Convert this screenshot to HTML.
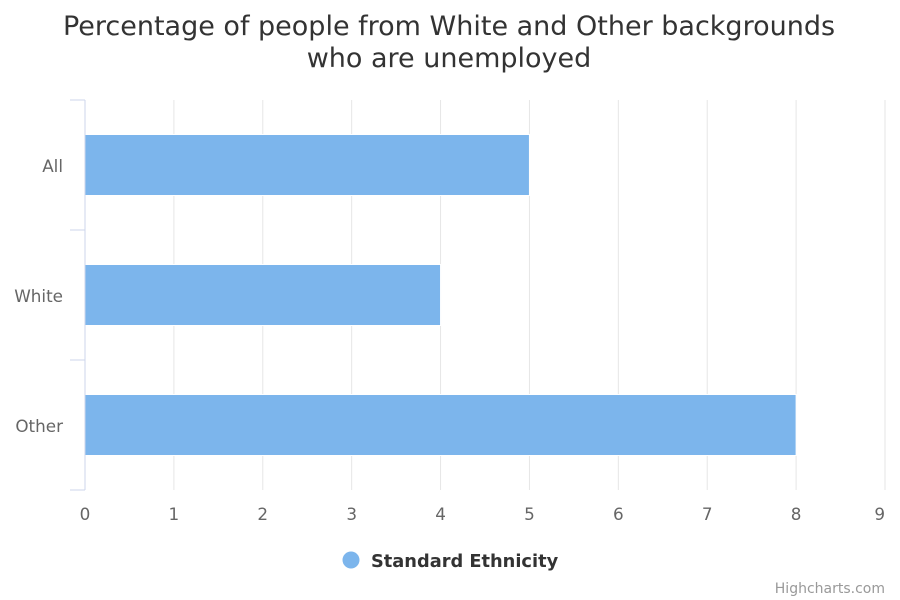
<!DOCTYPE html>
<html><head><meta charset="utf-8"><style>
body{margin:0;background:#fff;}
svg{display:block;font-family:"DejaVu Sans","Liberation Sans",sans-serif;}
</style></head><body>
<svg id="chart" width="900" height="600" viewBox="0 0 900 600">
<rect width="900" height="600" fill="#fff"/>
<text x="449" y="35" text-anchor="middle" font-size="27" fill="#333">Percentage of people from White and Other backgrounds</text>
<text x="449" y="67" text-anchor="middle" font-size="27" fill="#333">who are unemployed</text>
<g id="grid"></g>
<g id="bars"></g>
<g id="axes"></g>
<g>
<circle cx="351" cy="560" r="8.5" fill="#7cb5ec"/>
<text x="371" y="567" font-size="17.8" font-weight="bold" fill="#333">Standard Ethnicity</text>
</g>
<text x="885" y="593" text-anchor="end" font-size="14" fill="#999">Highcharts.com</text>
</svg>
<script>
const categories = ["All","White","Other"];
const values = [5,4,8];
const xTicks = [0,1,2,3,4,5,6,7,8,9];
const NS="http://www.w3.org/2000/svg";
const plotLeft=85,plotRight=885,plotTop=100,plotBottom=490;
const xScale=v=>plotLeft+(v-0)/(9-0)*(plotRight-plotLeft);
const band=(plotBottom-plotTop)/categories.length;
function mk(tag,attrs,parent){const e=document.createElementNS(NS,tag);for(const k in attrs)e.setAttribute(k,attrs[k]);parent.appendChild(e);return e;}
const grid=document.getElementById('grid'),bars=document.getElementById('bars'),axes=document.getElementById('axes');
xTicks.forEach((t,i)=>{
  const x=xScale(t);
  if(t>0){const l=mk('line',{x1:x,x2:x,y1:plotTop,y2:plotBottom,stroke:'#e6e6e6','stroke-width':1},grid);
  
  }
  const last=i===xTicks.length-1;
  const tx=mk('text',{x:last?plotRight:x,y:520,'text-anchor':last?'end':'middle','font-size':16.8,fill:'#666'},axes);
  tx.textContent=t;
  
  
});
const ax=mk('line',{x1:plotLeft,x2:plotLeft,y1:plotTop,y2:plotBottom,stroke:'#ccd6eb','stroke-width':1},axes);


for(let i=0;i<=categories.length;i++){
  const y=plotTop+i*band;
  const tk=mk('line',{x1:70,x2:plotLeft,y1:y,y2:y,stroke:'#ccd6eb','stroke-width':1},axes);
  
  
}
categories.forEach((c,i)=>{
  const cy=plotTop+band*(i+0.5);
  const lab=mk('text',{x:63,y:cy+7,'text-anchor':'end','font-size':16.8,fill:'#666'},axes);
  lab.textContent=c;
  
  
  const h=61;
  const r=mk('rect',{x:plotLeft,y:cy-h/2,width:xScale(values[i])-plotLeft,height:h,fill:'#7cb5ec',stroke:'#fff','stroke-width':1},bars);
  
  
});
</script>
</body></html>
